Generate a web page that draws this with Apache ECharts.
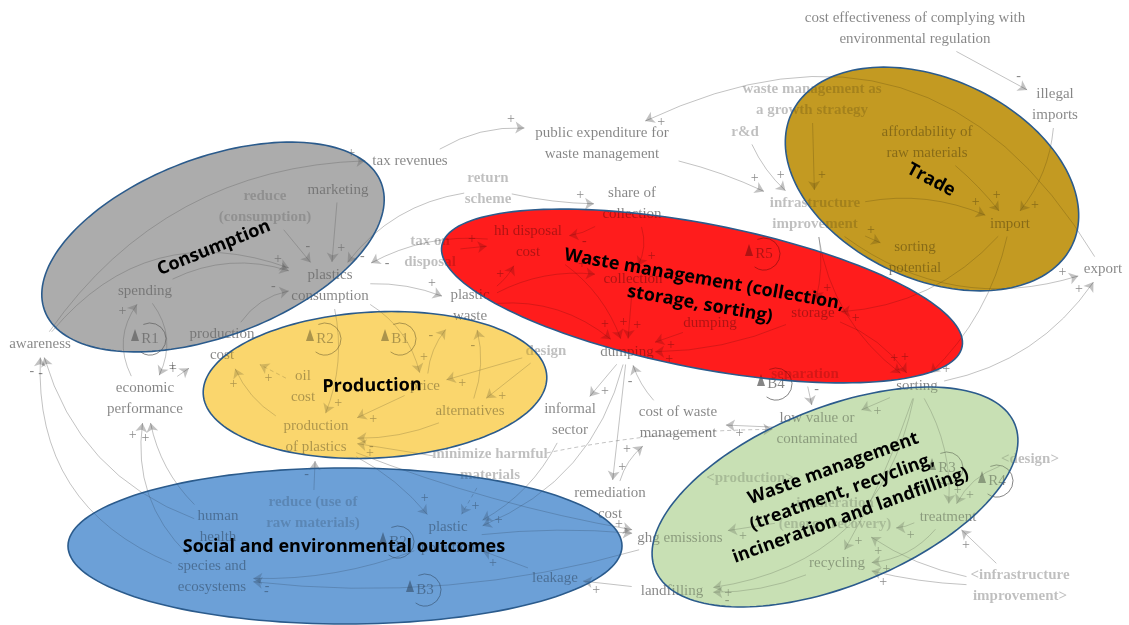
<!DOCTYPE html>
<html><head><meta charset="utf-8">
<script src="https://cdn.jsdelivr.net/npm/echarts/dist/echarts.min.js"></script>
<style>html,body{margin:0;padding:0;background:#fff;}#c{width:1129px;height:625px;}</style>
</head><body><div id="c"></div>
<script>
// ---- nodes (variables of the causal loop diagram) ----
const nodeIds = ['ce','ill','pub','tax','mkt','redc','ret','share','wmg','rd','aff','infra','spot','imp','exp','taxd','hh','pc','spend','coll','pw','stor','dump','dump2','aware','pcost','eco','oil','des','price','alt','pop','inf','cwm','sep','sort','low','mhm','rem','des2','prod2','inc','treat','hum','redr','pp','ghg','rec','infra2','spec','leak','land'];
const nodeLabels = ['cost effectiveness of complying with\nenvironmental regulation','illegal\nimports','public expenditure for\nwaste management','tax revenues','marketing','reduce\n(consumption)','return\nscheme','share of\ncollection','waste management as\na growth strategy','r&d','affordability of\nraw materials','infrastructure\nimprovement','sorting\npotential','import','export','tax on\ndisposal','hh disposal\ncost','plastics\nconsumption','spending','collection','plastic\nwaste','storage','dumping','dumping','awareness','production\ncost','economic\nperformance','oil\ncost','design','price','alternatives','production\nof plastics','informal\nsector','cost of waste\nmanagement','separation','sorting','low value or\ncontaminated','minimize harmful\nmaterials','remediation\ncost','<design>','<production>','incineration\n(energy recovery)','treatment','human\nhealth','reduce (use of\nraw materials)','plastic\npollution','ghg emissions','recycling','<infrastructure\nimprovement>','species and\necosystems','leakage','landfilling'];
const nodeX = [915,1055,602,410,338,265,488,632,812,745,927,815,915,1010,1103,430,528,330,145,633,470,813,627,710,40,222,145,303,546,425,470,316,570,678,805,917,817,490,610,1030,750,835,948,218,313,448,680,837,1020,212,555,672];
const nodeY = [29,105,144,161,190,207,189,204,100,132,143,214,258,224,269,252,242,286,291,279,306,313,352,323,344,345,399,387,351,386,411,437,420,423,374,386,429,465,504,459,478,514,517,527,513,538,538,563,586,577,578,591];
const nodeLight = [0,0,0,0,0,1,1,0,1,1,0,1,0,0,0,1,0,0,0,0,0,0,0,0,0,0,0,0,1,0,0,0,0,0,1,0,0,1,0,1,1,1,0,0,1,0,0,0,1,0,0,0];

// ---- causal links: [from, to, curveness, polarity, dashed] ----
const edges = [
 ['spend','pc',0.2,'+'],['aware','pc',0.35,''],['mkt','pc',0,'+'],['redc','pc',0,'-'],
 ['aware','tax',0.25,'+'],['tax','pub',0.15,'+'],['pub','infra',0.05,'+'],['ret','share',-0.05,'+'],
 ['share','hh',0.1,'-'],['share','coll',0.2,'+'],['taxd','hh',0,'+'],['ret','pc',-0.2,'-'],
 ['hh','pc',-0.15,'-'],['pc','pw',0.1,'+'],['pw','hh',-0.1,'+'],['pw','coll',0.15,'+'],
 ['pw','dump',0.2,'+'],['hh','dump',0.15,'+'],['coll','dump',0,'+'],['dump2','dump',0,'+'],
 ['stor','dump',0.1,'+'],['infra','stor',0.1,'+'],['imp','stor',0.2,'+'],['infra','spot',0,'+'],
 ['rd','infra',-0.1,'+'],['wmg','infra',0,'+'],['aff','imp',0.05,'+'],['ce','ill',0,'-'],
 ['ill','imp',0.15,'+'],['infra','imp',0.15,'+'],['exp','pub',-0.45,'+'],['infra','exp',-0.25,'+'],
 ['sort','exp',-0.2,'+'],['imp','sort',0.15,'+'],['stor','sort',0.15,'+'],['infra','sort',-0.2,'+'],
 ['sort','low',0,'+'],['sep','low',0,'-'],['sort','treat',0.15,'+'],['sort','rec',0.05,'+'],
 ['treat','rec',0.2,'+'],['treat','inc',0.1,'+'],['infra2','treat',0,'+'],['infra2','rec',0.05,'+'],
 ['infra2','inc',0.1,'+'],['des2','treat',-0.2,'+'],['rec','land',0.1,'-'],['inc','ghg',0,'+'],
 ['land','leak',0,'+'],['leak','pp',0,'+'],['low','cwm',0,'+'],['cwm','dump',0.1,'-'],
 ['rem','cwm',0.15,'+'],['dump','inf',0,'+'],['dump','rem',0,'+'],['inf','pp',0.15,'+'],
 ['dump','pp',0.25,''],['pp','ghg',0.05,'+'],['pp','spec',0.1,'-'],['ghg','spec',0.1,'-'],
 ['hum','eco',0.15,'+'],['spec','eco',0.25,'+'],['hum','aware',0.25,'-'],['spec','aware',0.35,'-'],
 ['eco','spend',0.3,'+'],['spend','eco',0.3,'+'],['pcost','pc',0.2,'-'],['oil','pcost',0,'+','dash'],
 ['pop','pcost',0.15,'+'],['eco','pcost',0,'+'],['pc','pop',0.15,'+'],['pc','price',0.2,'+'],
 ['des','price',0,'+'],['des','alt',0,'+'],['alt','pw',-0.15,'-'],['price','pw',0.15,'-'],
 ['alt','pop',0.1,'-'],['price','pop',0,'+'],['mhm','pop',0,'+'],['mhm','pp',0,'+','dash'],
 ['redr','pop',0,'-'],['pop','pp',0.1,'+'],['pop','ghg',-0.05,''],['mhm','low',0.05,'','dash'],
 ['sort','land',0.35,'+']
];

// ---- feedback loop markers ----
const loopNames = ['R1','R2','B1','R5','B4','R3','R4','B2','B3'];
const loopX = [147,322,397,761,773,944,994,395,422];
const loopY = [338,338,338,253,383,467,480,541,589];

// ---- subsystem ellipses ----
const ellCx = [213,375,345,702,932,835];
const ellCy = [247,385,546,296,179,497];
const ellRx = [180,172,277,265,155,194];
const ellRy = [89,73,78,72,100,89];
const ellAngle = [-20.8,-3,0,11,25,-22];
const ellColor = ['#acacac','#fad66e','#6ca0d8','#ff1c1c','#c49a22','#c8e0b4'];
const ellTitle = ['Consumption','Production','Social and environmental outcomes','Waste management (collection,\nstorage, sorting)','Trade','Waste management\n(treatment, recycling,\nincineration and landfilling)'];
const titleX = [214,372,344,702,931,842];
const titleY = [248,386,547,292,180,492];
const titleRot = [-22,-1,0,10,28,-20];

const chart = echarts.init(document.getElementById('c'), null, {renderer:'canvas'});
const idx = {}; nodeIds.forEach((id,i)=>idx[id]=i);
function halfBox(i){const ls=nodeLabels[i].split('\n');const m=Math.max(...ls.map(s=>s.length));return [m*3.3+3, ls.length*10.5+1];}
function clipPt(i,dx,dy,gap){
  const hb=halfBox(i);const L=Math.hypot(dx,dy)||1;const ux=dx/L,uy=dy/L;
  const t=Math.min(Math.abs(ux)>1e-6?hb[0]/Math.abs(ux):1e9,Math.abs(uy)>1e-6?hb[1]/Math.abs(uy):1e9)+gap;
  return [nodeX[i]+ux*t,nodeY[i]+uy*t];
}
const lineData=[],signData=[];
edges.forEach(e=>{
  const a=idx[e[0]],b=idx[e[1]],c=e[2];
  const p1=[nodeX[a],nodeY[a]],p2=[nodeX[b],nodeY[b]];
  const cp=[(p1[0]+p2[0])/2-(p1[1]-p2[1])*c,(p1[1]+p2[1])/2-(p2[0]-p1[0])*c];
  const s=clipPt(a,cp[0]-p1[0],cp[1]-p1[1],1);
  const t=clipPt(b,cp[0]-p2[0],cp[1]-p2[1],2);
  lineData.push({coords:[s,t],lineStyle:{curveness:c,type:e[4]==='dash'?[4,3]:'solid'}});
  if(e[3]){
    const cp2=[(s[0]+t[0])/2-(s[1]-t[1])*c,(s[1]+t[1])/2-(t[0]-s[0])*c];
    let ux=t[0]-cp2[0],uy=t[1]-cp2[1];const L=Math.hypot(ux,uy)||1;ux/=L;uy/=L;
    signData.push([t[0]-ux*14+uy*8,t[1]-uy*14-ux*8,e[3]]);
  }
});

// translucent black acts like a multiply: grey on white, tinted inside the coloured ellipses
const INK='rgba(0,0,0,0.48)', INK_LIGHT='rgba(0,0,0,0.25)';
function ellPts(i,api){const A=ellAngle[i]*Math.PI/180;const pts=[];
  for(let k=0;k<160;k++){const t=k/160*2*Math.PI;
    const x=ellCx[i]+ellRx[i]*Math.cos(t)*Math.cos(A)-ellRy[i]*Math.sin(t)*Math.sin(A);
    const y=ellCy[i]+ellRx[i]*Math.cos(t)*Math.sin(A)+ellRy[i]*Math.sin(t)*Math.cos(A);
    pts.push(api.coord([x,y]));}
  return pts;}

const option = {
  backgroundColor:'#ffffff',
  animation:false,
  grid:{left:0,right:0,top:0,bottom:0},
  xAxis:{type:'value',min:0,max:1129,show:false},
  yAxis:{type:'value',min:0,max:625,inverse:true,show:false},
  series:[
    {type:'custom',coordinateSystem:'cartesian2d',z:0,silent:true,
     data:ellCx.map((x,i)=>[x,ellCy[i],i]),
     renderItem:(p,api)=>{const i=api.value(2);
       return {type:'polygon',shape:{points:ellPts(i,api)},style:{fill:ellColor[i],stroke:null}};}},
    {type:'lines',coordinateSystem:'cartesian2d',z:1,silent:true,
     symbol:['none','arrow'],symbolSize:9,
     lineStyle:{color:INK,width:1},
     data:lineData},
    {type:'custom',coordinateSystem:'cartesian2d',z:2,silent:true,
     data:nodeX.map((x,i)=>[x,nodeY[i],i]),
     renderItem:(p,api)=>{const i=api.value(2);const pt=api.coord([api.value(0),api.value(1)]);
       return {type:'text',x:pt[0],y:pt[1],style:{text:nodeLabels[i],font:(nodeLight[i]?'bold ':'')+'15px "Liberation Serif"',fill:nodeLight[i]?INK_LIGHT:INK,align:'center',verticalAlign:'middle',lineHeight:21}};}},
    {type:'custom',coordinateSystem:'cartesian2d',z:2,silent:true,
     data:signData,
     renderItem:(p,api)=>{const pt=api.coord([api.value(0),api.value(1)]);const s=signData[p.dataIndex][2];
       return {type:'text',x:pt[0],y:pt[1],style:{text:s==='-'?'-':'+',font:'14px "Liberation Serif"',fill:INK,align:'center',verticalAlign:'middle'}};}},
    {type:'custom',coordinateSystem:'cartesian2d',z:2,silent:true,
     data:loopX.map((x,i)=>[x,loopY[i],i]),
     renderItem:(p,api)=>{const i=api.value(2);const pt=api.coord([api.value(0),api.value(1)]);
       return {type:'group',x:pt[0],y:pt[1],children:[
         {type:'arc',shape:{cx:3,cy:1,r:16,startAngle:-2.0,endAngle:2.2,clockwise:true},style:{stroke:INK,fill:null,lineWidth:1}},
         {type:'polygon',shape:{points:[[-16,3],[-8,3],[-12,-9]]},style:{fill:INK}},
         {type:'text',x:3,y:1,style:{text:loopNames[i],font:'15px "Liberation Serif"',fill:INK,align:'center',verticalAlign:'middle'}}
       ]};}},
    {type:'custom',coordinateSystem:'cartesian2d',z:3,silent:true,
     data:ellCx.map((x,i)=>[x,ellCy[i],i]),
     renderItem:(p,api)=>{const i=api.value(2);
       return {type:'polygon',shape:{points:ellPts(i,api)},style:{fill:ellColor[i],opacity:0.35,stroke:null}};}},
    {type:'custom',coordinateSystem:'cartesian2d',z:4,silent:true,
     data:ellCx.map((x,i)=>[x,ellCy[i],i]),
     renderItem:(p,api)=>{const i=api.value(2);
       return {type:'polygon',shape:{points:ellPts(i,api)},style:{fill:null,stroke:'#2b5b8c',lineWidth:1.6}};}},
    {type:'custom',coordinateSystem:'cartesian2d',z:6,silent:true,
     data:titleX.map((x,i)=>[x,titleY[i],i]),
     renderItem:(p,api)=>{const i=api.value(2);const pt=api.coord([api.value(0),api.value(1)]);
       return {type:'text',x:pt[0],y:pt[1],rotation:-titleRot[i]*Math.PI/180,style:{text:ellTitle[i],font:'bold 18px "Open Sans"',fill:'#000',align:'center',verticalAlign:'middle',lineHeight:25}};}}
  ]
};
chart.setOption(option);
</script></body></html>
